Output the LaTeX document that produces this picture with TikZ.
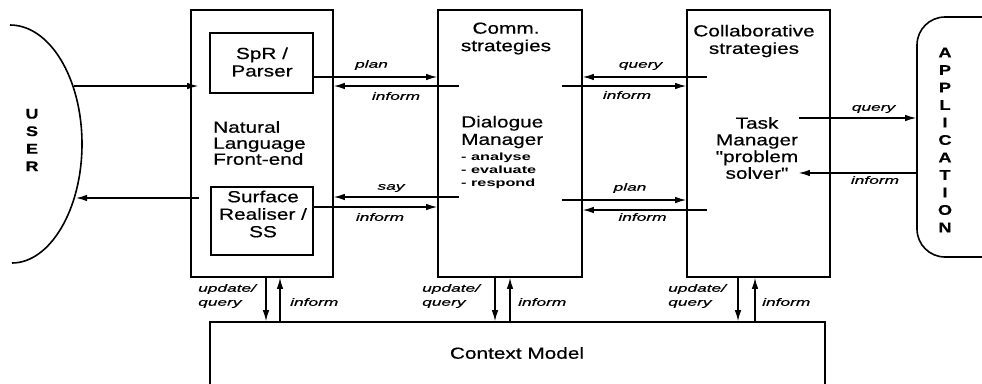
\documentclass[tikz,border=0pt]{standalone}
\usepackage{fontspec}
\setmainfont{Liberation Sans}[FakeStretch=1.3]
\newfontfamily\mainf{Liberation Sans}[FakeStretch=1.3, FakeBold=0.5]
\newfontfamily\labfont{Liberation Sans}[FakeStretch=1.65, FakeBold=0.4]
\newfontfamily\listfont{Liberation Sans}[FakeStretch=1.55]
\usetikzlibrary{arrows.meta}
\tikzset{
 box/.style={draw, line width=1.6pt, inner sep=0pt},
 arr/.style={line width=1.3pt, -{Latex[length=11pt,width=6.5pt]}},
 lab/.style={inner sep=0pt, align=left, font=\labfont\itshape\fontsize{10.5}{14}\selectfont},
 txt/.style={inner sep=0pt, align=center, font=\mainf\fontsize{16}{17.5}\selectfont},
 lst/.style={inner sep=0pt, align=left, font=\listfont\bfseries\fontsize{10.5}{13}\selectfont},
 letters/.style={inner sep=0pt, align=center, font=\mainf\bfseries\fontsize{14}{17.5}\selectfont},
}
\begin{document}
\begin{tikzpicture}[x=1pt,y=-1pt]
\clip (0,0) rectangle (982,383);
\fill[white] (0,0) rectangle (982,383);

% USER
\draw[line width=1.6pt] (10,25) .. controls (49.8,25) and (82,78.3) .. (82,144)
  .. controls (82,209.7) and (49.8,263) .. (12,263);
\coordinate (u1) at (74,86);
\coordinate (u2) at (76,198);
\node[letters] (user) at (32,140) {U\\S\\E\\R};

% boxes
\node[box, minimum width=142pt, minimum height=267pt] (nl) at (262,143.5) {};
\node[box, minimum width=103pt, minimum height=60pt] (spr) at (261.5,63) {};
\node[box, minimum width=102pt, minimum height=68pt] (sr) at (262,221) {};
\node[box, minimum width=144pt, minimum height=267pt] (dm) at (510,143.5) {};
\node[box, minimum width=143pt, minimum height=267pt] (tm) at (758.5,143.5) {};
\node[box, minimum width=615pt, minimum height=120pt] (cm) at (517.5,382) {};
\node[box, rounded corners=28pt, minimum width=160pt, minimum height=240pt] (app) at (997,137) {};

% texts
\node[txt] (sprt) at (262,62) {SpR /\\Parser};
\node[txt, align=left, anchor=west, font=\mainf\fontsize{16}{16}\selectfont] (nlt) at (213,143) {Natural\\Language\\Front-end};
\node[txt] (srt) at (263,214) {Surface\\Realiser /\\SS};
\node[txt] (cst) at (506,38.5) {Comm.\\strategies};
\node[txt, align=left, anchor=west] (dmt) at (461,132) {Dialogue\\Manager};
\node[lst, anchor=west] (dml) at (461,171) {- analyse\\- evaluate\\- respond};
\node[txt] (clt) at (754,41) {Collaborative\\strategies};
\node[txt, font=\mainf\fontsize{16}{16.7}\selectfont] (tmt) at (757,148) {Task\\Manager\\"problem\\ solver"};
\node[txt] (cmt) at (517,353) {Context Model};
\node[letters] (appt) at (945,140) {A\\P\\P\\L\\I\\C\\A\\T\\I\\O\\N};

% user arrows
\draw[arr] (u1) -- ([xshift=8pt]nl.west |- u1);
\draw[arr] ([xshift=9pt]nl.west |- u2) -- (u2);

% NL <-> DM
\draw[arr] (spr.east |- 0,77) -- (dm.west |- 0,77);
\draw[arr] ([xshift=22pt]dm.west |- 0,86) -- (nl.east |- 0,86);
\draw[arr] ([xshift=22pt]dm.west |- 0,197) -- (nl.east |- 0,197);
\draw[arr] (sr.east |- 0,207) -- (dm.west |- 0,207);

% DM <-> TM
\draw[arr] ([xshift=21pt]tm.west |- 0,77) -- (dm.east |- 0,77);
\draw[arr] ([xshift=-21pt]dm.east |- 0,86) -- (tm.west |- 0,86);
\draw[arr] ([xshift=-21pt]dm.east |- 0,200) -- (tm.west |- 0,200);
\draw[arr] ([xshift=21pt]tm.west |- 0,210) -- (dm.east |- 0,210);

% TM <-> APP
\draw[arr] ([xshift=-32pt]tm.east |- 0,118) -- (app.west |- 0,118);
\draw[arr] (app.west |- 0,173) -- ([xshift=-32pt]tm.east |- 0,173);

% vertical to context model
\draw[arr] (nl.south -| 266,0) -- (cm.north -| 266,0);
\draw[arr] (cm.north -| 280,0) -- (nl.south -| 280,0);
\draw[arr] (dm.south -| 495,0) -- (cm.north -| 495,0);
\draw[arr] (cm.north -| 510,0) -- (dm.south -| 510,0);
\draw[arr] (tm.south -| 738,0) -- (cm.north -| 738,0);
\draw[arr] (cm.north -| 755,0) -- (tm.south -| 755,0);

% labels
\node[lab] (l1) at (371.5,65) {plan};
\node[lab] (l2) at (396,96) {inform};
\node[lab] (l3) at (391,188) {say};
\node[lab] (l4) at (380,217) {inform};
\node[lab] (l5) at (640.5,66) {query};
\node[lab] (l6) at (627,95) {inform};
\node[lab] (l7) at (630,188) {plan};
\node[lab] (l8) at (642.5,217) {inform};
\node[lab] (l9) at (873.5,109) {query};
\node[lab] (l10) at (875,180) {inform};
\node[lab, anchor=west] (b1) at (198,296) {update/\\query};
\node[lab, anchor=west] (b2) at (290,302) {inform};
\node[lab, anchor=west] (b3) at (422,296) {update/\\query};
\node[lab, anchor=west] (b4) at (518,302) {inform};
\node[lab, anchor=west] (b5) at (668,296) {update/\\query};
\node[lab, anchor=west] (b6) at (762,302) {inform};
\end{tikzpicture}
\end{document}
